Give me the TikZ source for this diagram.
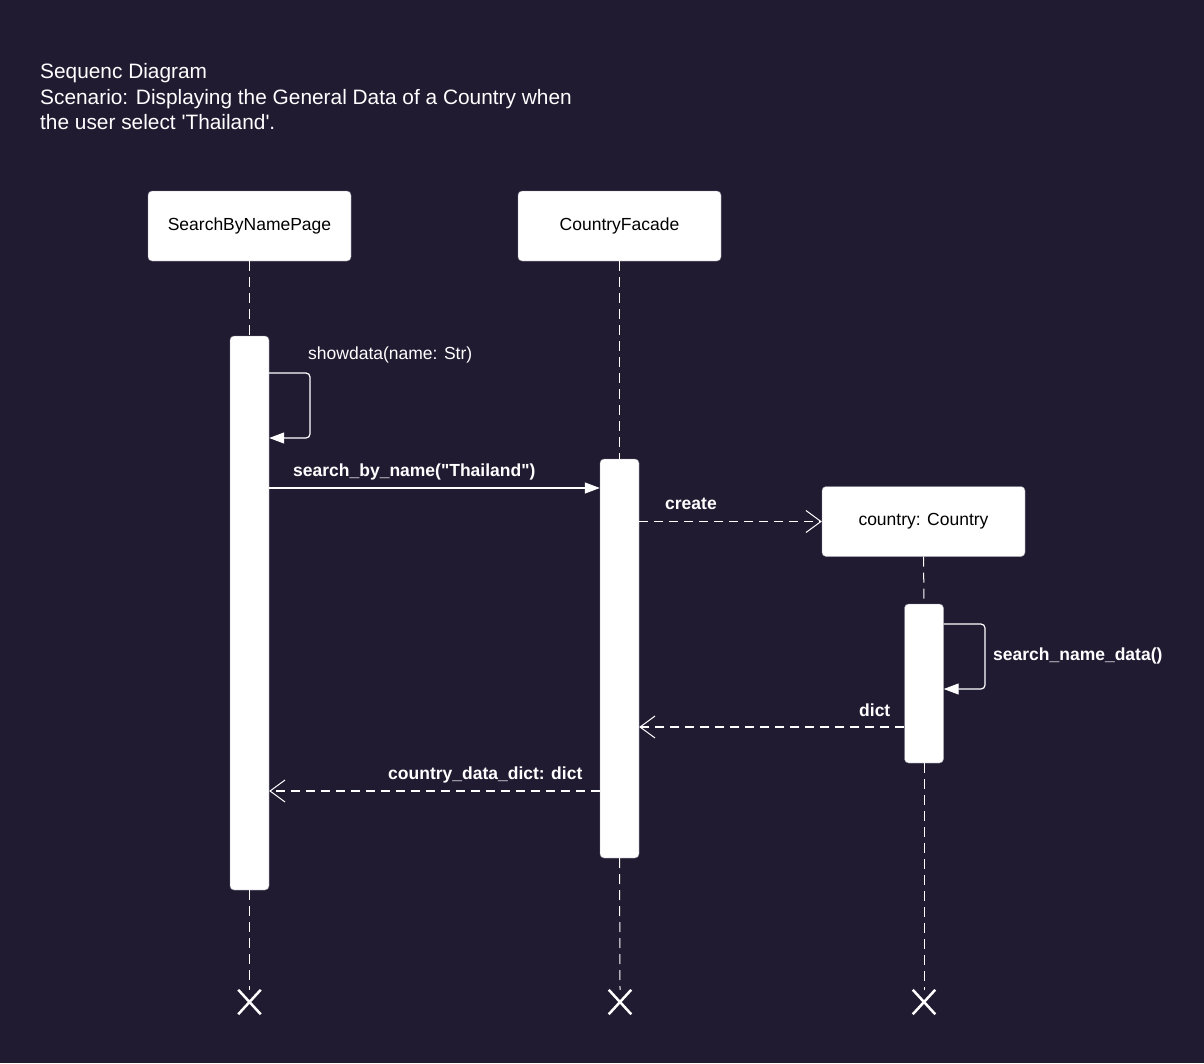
\documentclass[tikz,border=0pt]{standalone}
\usepackage{fontspec}
\setmainfont{Liberation Sans}[Ligatures=TeXOff]
\usetikzlibrary{arrows.meta,shapes.misc}
\definecolor{bg}{RGB}{33,27,50}
\definecolor{edge}{RGB}{150,150,160}
\begin{document}
\begin{tikzpicture}[x=1pt,y=-1pt,
  objbox/.style={draw=edge, fill=white, rounded corners=4pt, minimum width=203pt, minimum height=70pt, inner sep=0pt, text=black, font=\fontsize{17.5}{20}\selectfont},
  actbox/.style={draw=edge, fill=white, rounded corners=4pt, minimum width=39pt, inner sep=0pt},
  life/.style={draw=white, line width=1pt, dash pattern=on 10pt off 6pt},
  sync/.style={draw=white, line width=1.2pt, -{Triangle[length=15pt,width=11pt]}},
  selfmsg/.style={sync, rounded corners=4pt},
  reply/.style={draw=white, line width=1.2pt, dash pattern=on 9pt off 6pt, -{Straight Barb[length=15pt,width=22pt,line width=1pt]}},
  lbl/.style={text=white, anchor=base west, inner sep=0pt, font=\fontsize{17.5}{20}\selectfont},
  blbl/.style={lbl, font=\fontsize{17.5}{20}\selectfont\bfseries},
  ttl/.style={text=white, anchor=base west, inner sep=0pt, font=\fontsize{20.85}{25}\selectfont},
  xmark/.style={cross out, draw=white, line width=2.5pt, minimum width=20pt, minimum height=22pt, inner sep=0pt}
]
\fill[bg] (0,0) rectangle (1204,1063);
\useasboundingbox (0,0) rectangle (1204,1063);

% title
\node[ttl] (t1) at (40,78) {Sequenc Diagram};
\node[ttl] (t2) at (40,104) {Scenario: Displaying the General Data of a Country when};
\node[ttl] (t3) at (40,129) {the user select 'Thailand'.};

% objects
\node[objbox] (sbn) at (249.5,226) {SearchByNamePage};
\node[objbox] (cf) at (619.5,226) {CountryFacade};
\node[objbox] (cc) at (923.5,521.5) {country: Country};

% end marks
\node[xmark] (x1) at (249.5,1002) {};
\node[xmark] (x2) at (620,1002) {};
\node[xmark] (x3) at (924,1002) {};

% activations
\node[actbox, minimum height=554pt] (a1) at (249.5,613) {};
\node[actbox, minimum height=399pt] (a2) at (619.5,658.5) {};
\node[actbox, minimum height=159pt] (a3) at (924,683.5) {};

% lifelines
\draw[life] (sbn.south) -- (a1.north);
\draw[life] (a1.south) -- (x1.north);
\draw[life] (cf.south) -- (a2.north);
\draw[life] (a2.south) -- (x2.north);
\draw[life] (cc.south) -- (a3.north);
\draw[life] (a3.south) -- (x3.north);

% message levels
\coordinate (m1a) at (0,373);
\coordinate (m1b) at (0,438);
\coordinate (m2) at (0,488);
\coordinate (m4a) at (0,624);
\coordinate (m4b) at (0,689);
\coordinate (m5) at (0,727);
\coordinate (m6) at (0,791);
\coordinate (loop1) at (310,0);
\coordinate (loop2) at (985,0);

% messages
\draw[selfmsg] (a1.east |- m1a) -- (loop1 |- m1a) -- (loop1 |- m1b) -- (a1.east |- m1b);
\node[lbl] (l1) at (308,359) {showdata(name: Str)};

\draw[sync] (a1.east |- m2) -- (a2.west |- m2);
\node[blbl] (l2) at (293,476) {search\_by\_name("Thailand")};

\draw[reply] (a2.east |- cc.west) -- (cc.west);
\node[blbl] (l3) at (665,509) {create};

\draw[selfmsg] (a3.east |- m4a) -- (loop2 |- m4a) -- (loop2 |- m4b) -- (a3.east |- m4b);
\node[blbl] (l4) at (993,660) {search\_name\_data()};

\draw[reply] (a3.west |- m5) -- (a2.east |- m5);
\node[blbl] (l5) at (859,716) {dict};

\draw[reply] (a2.west |- m6) -- (a1.east |- m6);
\node[blbl] (l6) at (388,779) {country\_data\_dict: dict};
\end{tikzpicture}
\end{document}
